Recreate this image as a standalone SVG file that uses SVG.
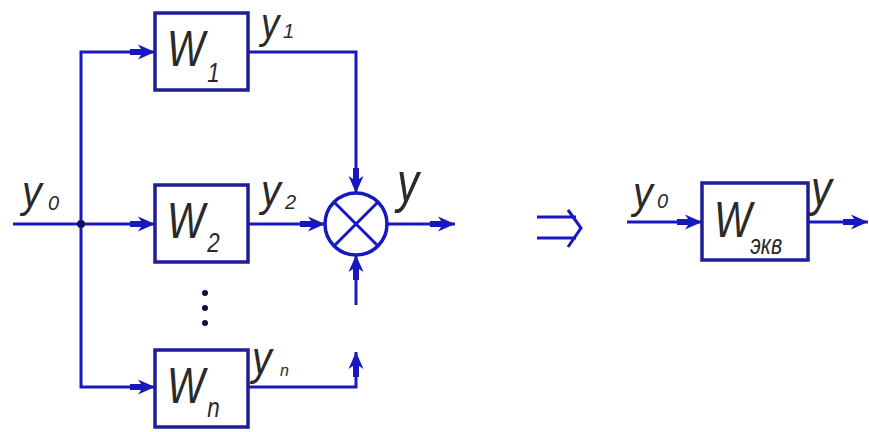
<svg xmlns="http://www.w3.org/2000/svg" width="869" height="432" viewBox="0 0 869 432">
<style>
.ln{fill:none;stroke:#1818c0;stroke-width:3}
.bx{fill:#fff;stroke:#1e1e96;stroke-width:3.5}
.t{font-family:"Liberation Sans",Arial,sans-serif;font-style:italic;fill:#2a2a2a}
.big{font-size:50px}
.sub{font-size:28px}
.yl{font-size:36px}
.ys{font-size:20px}
</style>
<defs>
<marker id="ar" viewBox="-26 -9 28 18" refX="0" refY="0" markerWidth="28" markerHeight="18" markerUnits="userSpaceOnUse" orient="auto">
<polygon points="0,0 -17,-7.5 -14,-3 -25,-3 -25,3 -14,3 -17,7.5" fill="#1818c0"/>
</marker>
</defs>
<rect width="869" height="432" fill="#fff"/>
<g id="connectors">
<line class="ln" x1="13" y1="224" x2="155" y2="224" marker-end="url(#ar)"/>
<polyline class="ln" points="81,224 81,52 155,52" marker-end="url(#ar)"/>
<polyline class="ln" points="81,224 81,387 155,387" marker-end="url(#ar)"/>
<polyline class="ln" points="248,52 356,52 356,193" marker-end="url(#ar)"/>
<line class="ln" x1="248" y1="224" x2="325" y2="224" marker-end="url(#ar)"/>
<line class="ln" x1="356" y1="305" x2="356" y2="255" marker-end="url(#ar)"/>
<polyline class="ln" points="248,387 356,387 356,352" marker-end="url(#ar)"/>
<line class="ln" x1="387" y1="224" x2="455" y2="224" marker-end="url(#ar)"/>
<line class="ln" x1="627" y1="222" x2="702" y2="222" marker-end="url(#ar)"/>
<line class="ln" x1="808" y1="222" x2="868" y2="222" marker-end="url(#ar)"/>
<circle cx="81" cy="224" r="4" fill="#101060"/>
</g>
<g id="W1">
<rect class="bx" x="155" y="13" width="93" height="77"/>
<text class="t big" transform="translate(167,66) scale(0.8,1)">W<tspan class="sub" dx="3" dy="16">1</tspan></text>
</g>
<g id="W2">
<rect class="bx" x="155" y="185" width="93" height="77"/>
<text class="t big" transform="translate(167,238) scale(0.8,1)">W<tspan class="sub" dx="3" dy="14">2</tspan></text>
</g>
<g id="Wn">
<rect class="bx" x="155" y="350" width="93" height="77"/>
<text class="t big" transform="translate(167,403) scale(0.8,1)">W<tspan class="sub" dx="3" dy="14">n</tspan></text>
</g>
<g id="dots" fill="#101040">
<circle cx="205" cy="293" r="3"/>
<circle cx="205" cy="308" r="3"/>
<circle cx="205" cy="323" r="3"/>
</g>
<g id="sum">
<circle cx="356" cy="224" r="31" fill="#fff" stroke="#1818c0" stroke-width="3.5"/>
<line class="ln" x1="334" y1="202" x2="378" y2="246"/>
<line class="ln" x1="378" y1="202" x2="334" y2="246"/>
</g>
<g id="Wekv">
<rect class="bx" x="702" y="183" width="106" height="77"/>
<text class="t big" transform="translate(714,237) scale(0.8,1)">W<tspan font-size="27" dx="-2" dy="17">экв</tspan></text>
</g>
<g id="implies" class="ln">
<line x1="537" y1="217" x2="576" y2="217"/>
<line x1="537" y1="238" x2="576" y2="238"/>
<polyline points="568,210 581,228 568,247"/>
</g>
<g id="labels">
<text class="t yl" transform="translate(22,207) scale(1.1,1.25)">y</text>
<text class="t ys" x="48" y="210">0</text>
<text class="t" font-size="32" transform="translate(261,38) scale(1.15,1.35)">y</text>
<text class="t ys" x="283" y="38">1</text>
<text class="t yl" transform="translate(261,206) scale(1.1,1.25)">y</text>
<text class="t ys" x="285" y="209">2</text>
<text class="t" font-size="40" transform="translate(397,201) scale(1.1,1.4)">y</text>
<text class="t yl" transform="translate(252,374) scale(1.1,1.3)">y</text>
<text class="t" font-size="16" x="280" y="376">n</text>
<text class="t yl" transform="translate(633,208) scale(1.1,1.25)">y</text>
<text class="t ys" x="657" y="208">0</text>
<text class="t" font-size="38" transform="translate(811,206) scale(1.1,1.3)">y</text>
</g>
</svg>
